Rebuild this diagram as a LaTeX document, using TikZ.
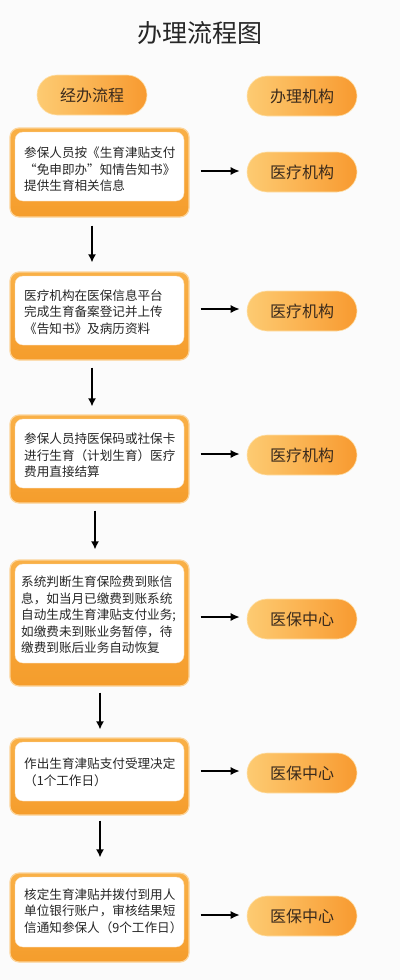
\documentclass[tikz,border=0pt]{standalone}
\usepackage{fontspec}
\setmainfont{Noto Sans CJK SC}
\usetikzlibrary{arrows.meta}
\definecolor{bg}{HTML}{FBFBFB}
\definecolor{orgtop}{HTML}{F9B047}
\definecolor{orgbot}{HTML}{F59D2C}
\definecolor{orgl}{HTML}{FDCB72}
\definecolor{orgd}{HTML}{F89A30}
\definecolor{txtc}{HTML}{262626}
\definecolor{pilltxt}{HTML}{3A2A1C}
\begin{document}
\begin{tikzpicture}[x=1pt,y=-1pt,
  outerbox/.style={rounded corners=9pt, draw=orgtop!55, line width=1.2pt,
    top color=orgtop, bottom color=orgbot, minimum width=179pt, inner sep=0pt},
  innerbox/.style={rounded corners=8pt, fill=white, draw=orgtop!40, line width=0.4pt,
    minimum width=169pt, inner sep=0pt},
  txt/.style={anchor=west, align=left, inner sep=0pt, text=txtc,
    font=\fontsize{12.6}{16.5}\selectfont},
  pill/.style={rounded corners=20pt, minimum width=110pt, minimum height=40pt,
    left color=orgl, right color=orgd, draw=orgl!60, line width=0.6pt,
    text=pilltxt, font=\fontsize{16}{16}\selectfont},
  harr/.style={line width=1.5pt, -{Latex[length=9pt,width=8pt]},
    shorten <=11pt, shorten >=7pt},
  varr/.style={line width=1.5pt, -{Latex[length=8pt,width=8pt]}}
]
\fill[bg] (0,0) rectangle (400,980);
\useasboundingbox (0,0) rectangle (400,980);

\node[text=txtc, font=\fontsize{25}{25}\selectfont] (title) at (200,33) {办理流程图};

\node[pill] (h1) at (92,95) {经办流程};
\node[pill] (h2) at (302,96) {办理机构};

% step boxes
\node[outerbox, minimum height=89pt] (o1) at (99.5,172.5) {};
\node[innerbox, minimum height=69pt] (i1) at (99.5,166.5) {};
\node[txt] (t1) at (24,169.5) {参保人员按《生育津贴支付\\“免申即办”知情告知书》\\提供生育相关信息};

\node[outerbox, minimum height=88pt] (o2) at (99.5,316) {};
\node[innerbox, minimum height=69pt] (i2) at (99.5,310.5) {};
\node[txt] (t2) at (24,312) {医疗机构在医保信息平台\\完成生育备案登记并上传\\《告知书》及病历资料};

\node[outerbox, minimum height=88pt] (o3) at (99.5,459) {};
\node[innerbox, minimum height=69pt] (i3) at (99.5,453.5) {};
\node[txt] (t3) at (24,455.5) {参保人员持医保码或社保卡\\进行生育（计划生育）医疗\\费用直接结算};

\node[outerbox, minimum height=126pt] (o4) at (99.5,623) {};
\node[innerbox, minimum height=99pt] (i4) at (99.5,613.5) {};
\node[txt] (t4) at (21,615) {系统判断生育保险费到账信\\息，如当月已缴费到账系统\\自动生成生育津贴支付业务;\\如缴费未到账业务暂停，待\\缴费到账后业务自动恢复};

\node[outerbox, minimum height=77pt] (o5) at (99.5,776.5) {};
\node[innerbox, minimum height=59pt] (i5) at (99.5,771.5) {};
\node[txt] (t5) at (24,772.5) {作出生育津贴支付受理决定\\（1个工作日）};

\node[outerbox, minimum height=89pt] (o6) at (99.5,917.5) {};
\node[innerbox, minimum height=70pt] (i6) at (99.5,912) {};
\node[txt] (t6) at (24,911) {核定生育津贴并拨付到用人\\单位银行账户，审核结果短\\信通知参保人（9个工作日）};

% agencies
\node[pill] (p1) at (302,172) {医疗机构};
\node[pill] (p2) at (302,311) {医疗机构};
\node[pill] (p3) at (302,455) {医疗机构};
\node[pill] (p4) at (302,619) {医保中心};
\node[pill] (p5) at (302,773) {医保中心};
\node[pill] (p6) at (302,916) {医保中心};

% horizontal arrows
\draw[harr] ([yshift=1pt]p1.west -| o1.east) -- ([yshift=1pt]p1.west);
\draw[harr] ([yshift=2pt]p2.west -| o2.east) -- ([yshift=2pt]p2.west);
\draw[harr] ([yshift=1pt]p3.west -| o3.east) -- ([yshift=1pt]p3.west);
\draw[harr] ([yshift=2pt]p4.west -| o4.east) -- ([yshift=2pt]p4.west);
\draw[harr] ([yshift=2pt]p5.west -| o5.east) -- ([yshift=2pt]p5.west);
\draw[harr] ([yshift=1pt]p6.west -| o6.east) -- ([yshift=1pt]p6.west);

% vertical arrows
\draw[varr, shorten <=8pt, shorten >=9pt] ([xshift=-7.5pt]o1.south) -- ([xshift=-7.5pt]o2.north);
\draw[varr, shorten <=7pt, shorten >=8pt] ([xshift=-7.5pt]o2.south) -- ([xshift=-7.5pt]o3.north);
\draw[varr, shorten <=7pt, shorten >=10pt] ([xshift=-4.5pt]o3.south) -- ([xshift=-4.5pt]o4.north);
\draw[varr, shorten <=6pt, shorten >=8pt] ([xshift=0.5pt]o4.south) -- ([xshift=0.5pt]o5.north);
\draw[varr, shorten <=5pt, shorten >=15pt] ([xshift=0.5pt]o5.south) -- ([xshift=0.5pt]o6.north);
\end{tikzpicture}
\end{document}
